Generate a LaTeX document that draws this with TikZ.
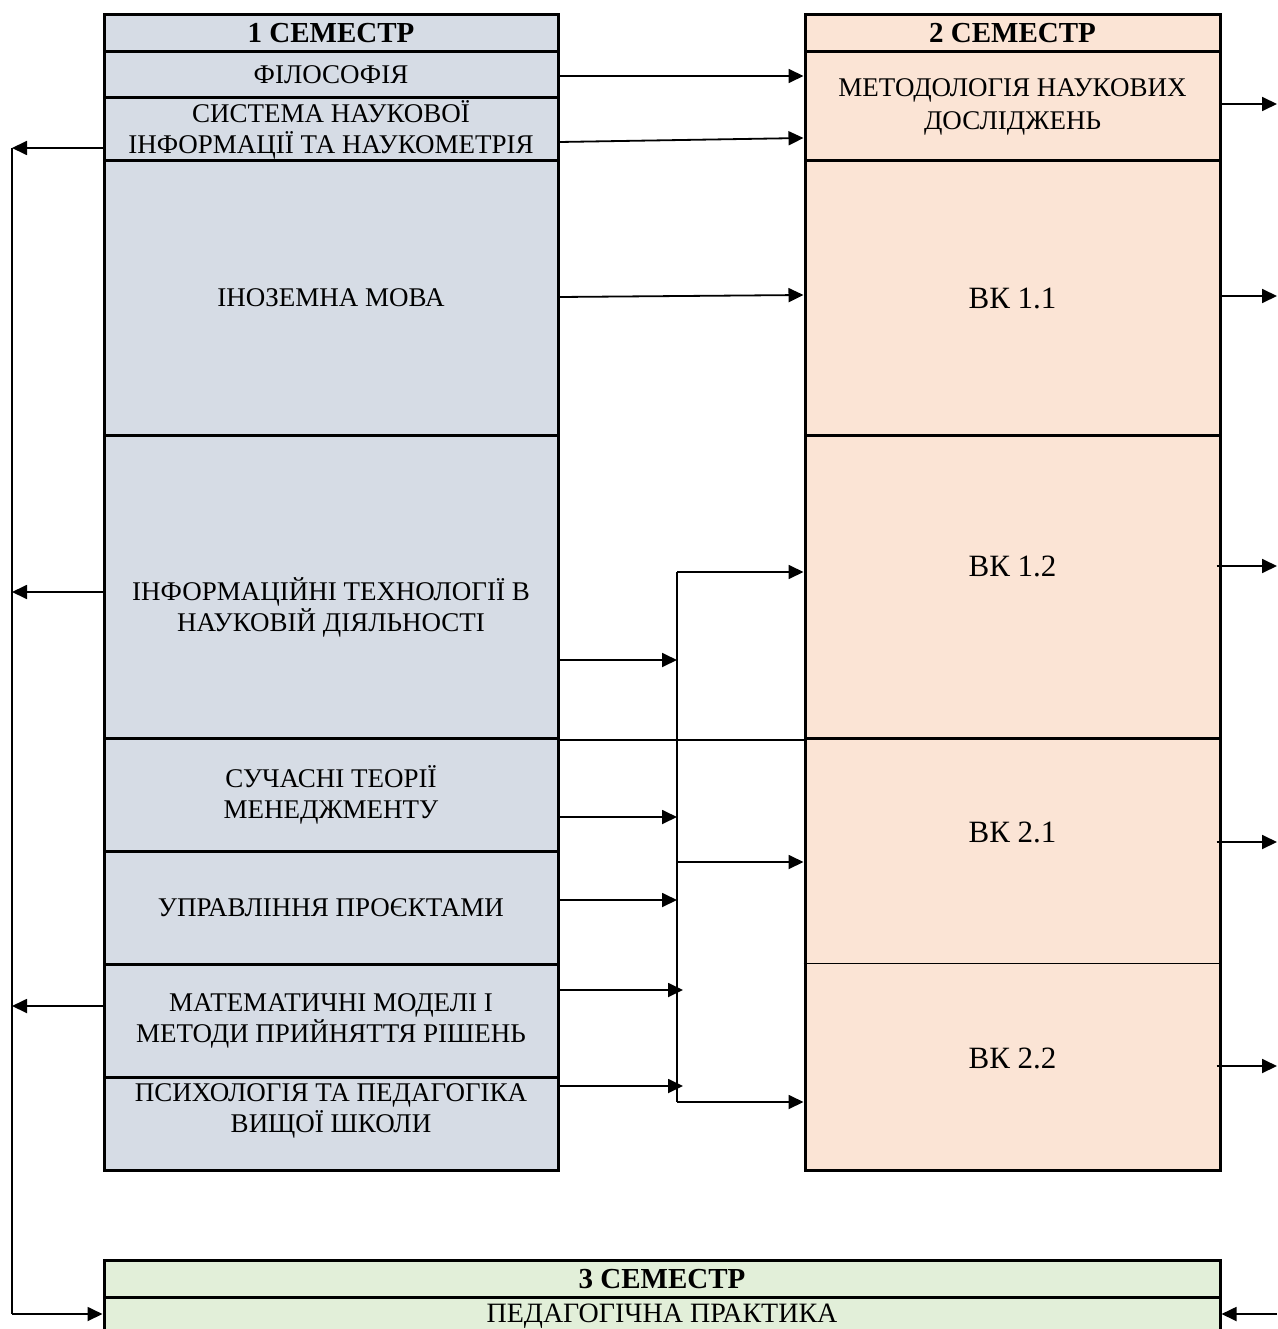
\documentclass[tikz,border=0pt]{standalone}
\usepackage{fontspec}
\setmainfont{Liberation Serif}
\usetikzlibrary{arrows.meta,calc}
\definecolor{lblue}{HTML}{D6DCE5}
\definecolor{lpeach}{HTML}{FBE4D5}
\definecolor{lgreen}{HTML}{E2EFD9}
\begin{document}
\begin{tikzpicture}[x=1pt,y=-1pt,
  body/.style={font=\fontsize{27}{31}\selectfont},
  cellL/.style={draw,line width=3pt,fill=lblue,minimum width=454pt,inner sep=0pt,align=center,body},
  cellR/.style={draw,line width=3pt,fill=lpeach,minimum width=415pt,inner sep=0pt,align=center,body},
  cellG/.style={draw,line width=3pt,fill=lgreen,minimum width=1116pt,inner sep=0pt,align=center,body},
  hdr/.style={font=\fontsize{29}{32}\selectfont\bfseries},
  big/.style={font=\fontsize{31}{36}\selectfont},
  txt/.style={inner sep=0pt,align=center},
  arr/.style={line width=1.8pt,-{Triangle[length=15pt,width=14pt]}},
  ln/.style={line width=1.6pt}]
\useasboundingbox (0,0) rectangle (1277,1329);
\clip (0,0) rectangle (1277,1329);
% semester 1
\node[cellL,hdr,minimum height=37pt] (h1) at (331,33.5) {1 СЕМЕСТР};
\node[cellL,minimum height=46pt] (fil) at (331,75) {ФІЛОСОФІЯ};
\node[cellL,minimum height=63pt] (sys) at (331,129.5) {СИСТЕМА НАУКОВОЇ\\ІНФОРМАЦІЇ ТА НАУКОМЕТРІЯ};
\node[cellL,minimum height=274pt] (ino) at (331,298) {ІНОЗЕМНА МОВА};
\node[cellL,minimum height=303pt] (inf) at (331,586.5) {};
\node[txt,body] (inft) at (331,607) {ІНФОРМАЦІЙНІ ТЕХНОЛОГІЇ В\\НАУКОВІЙ ДІЯЛЬНОСТІ};
\node[cellL,minimum height=113pt] (suc) at (331,794.5) {СУЧАСНІ ТЕОРІЇ\\МЕНЕДЖМЕНТУ};
\node[cellL,minimum height=113pt] (upr) at (331,907.5) {УПРАВЛІННЯ ПРОЄКТАМИ};
\node[cellL,minimum height=113pt] (mat) at (331,1020.5) {МАТЕМАТИЧНІ МОДЕЛІ І\\МЕТОДИ ПРИЙНЯТТЯ РІШЕНЬ};
\node[cellL,minimum height=93pt] (psy) at (331,1123.5) {};
\node[txt,body] (psyt) at (331,1111) {ПСИХОЛОГІЯ ТА ПЕДАГОГІКА\\ВИЩОЇ ШКОЛИ};
% semester 2
\node[cellR,hdr,minimum height=37pt] (h2) at (1012.5,33.5) {2 СЕМЕСТР};
\node[cellR,font=\fontsize{27}{33}\selectfont,minimum height=109pt] (met) at (1012.5,106.5) {МЕТОДОЛОГІЯ НАУКОВИХ\\ДОСЛІДЖЕНЬ};
\node[cellR,big,minimum height=274pt] (vk11) at (1012.5,298) {ВК 1.1};
\node[cellR,minimum height=303pt] (vk12) at (1012.5,586.5) {};
\node[txt,big] (vk12t) at (1012.5,566) {ВК 1.2};
\node[cellR,minimum height=432pt] (vk2) at (1012.5,954) {};
\draw[line width=1pt] (vk2.west |- 0,963) -- (vk2.east |- 0,963);
\node[txt,big] (vk21) at (1012.5,832) {ВК 2.1};
\node[txt,big] (vk22) at (1012.5,1058) {ВК 2.2};
% semester 3
\node[cellG,minimum height=37pt] (h3) at (662,1278.5) {};
\node[txt,hdr,anchor=base] (h3t) at (662,1288) {3 СЕМЕСТР};
\node[cellG,minimum height=37pt] (prac) at (662,1315.5) {};
\node[txt,font=\fontsize{28}{32}\selectfont,anchor=base] (pract) at (662,1322) {ПЕДАГОГІЧНА ПРАКТИКА};
% coordinates
\coordinate (L) at (12,0);
\coordinate (R) at (1277,0);
\coordinate (bus) at (677,0);
% line between columns
\draw[line width=2pt] (inf.south east) -- (vk12.south west);
% direct arrows
\draw[arr] (fil.east |- 0,76) -- (met.west |- 0,76);
\draw[arr] (sys.east |- 0,142) -- (met.west |- 0,138);
\draw[arr] (ino.east |- 0,297) -- (vk11.west |- 0,295);
% right outgoing arrows
\draw[arr] (met.east |- 0,104) -- (R |- 0,104);
\draw[arr] (vk11.east |- 0,296) -- (R |- 0,296);
\draw[arr] ([xshift=-5pt]vk12.east |- 0,566) -- (R |- 0,566);
\draw[arr] ([xshift=-5pt]vk2.east |- 0,842) -- (R |- 0,842);
\draw[arr] ([xshift=-5pt]vk2.east |- 0,1066) -- (R |- 0,1066);
\draw[arr] (R |- 0,1314) -- (prac.east |- 0,1314);
% left arrows
\draw[arr] (sys.west |- 0,148) -- (L |- 0,148);
\draw[arr] (inf.west |- 0,592) -- (L |- 0,592);
\draw[arr] (mat.west |- 0,1006) -- (L |- 0,1006);
\draw[ln] (L |- 0,148) -- (L |- 0,1314);
\draw[arr] (L |- 0,1314) -- (prac.west |- 0,1314);
% bus
\draw[ln] (bus |- 0,572) -- (bus |- 0,1102);
\draw[arr] (inf.east |- 0,660) -- (bus |- 0,660);
\draw[arr] (suc.east |- 0,817) -- (bus |- 0,817);
\draw[arr] (upr.east |- 0,900) -- (bus |- 0,900);
\draw[arr] (mat.east |- 0,990) -- ([xshift=6pt]bus |- 0,990);
\draw[arr] (psy.east |- 0,1086) -- ([xshift=6pt]bus |- 0,1086);
\draw[arr] (bus |- 0,572) -- (vk12.west |- 0,572);
\draw[arr] (bus |- 0,862) -- (vk2.west |- 0,862);
\draw[arr] (bus |- 0,1102) -- (vk2.west |- 0,1102);
\end{tikzpicture}
\end{document}
